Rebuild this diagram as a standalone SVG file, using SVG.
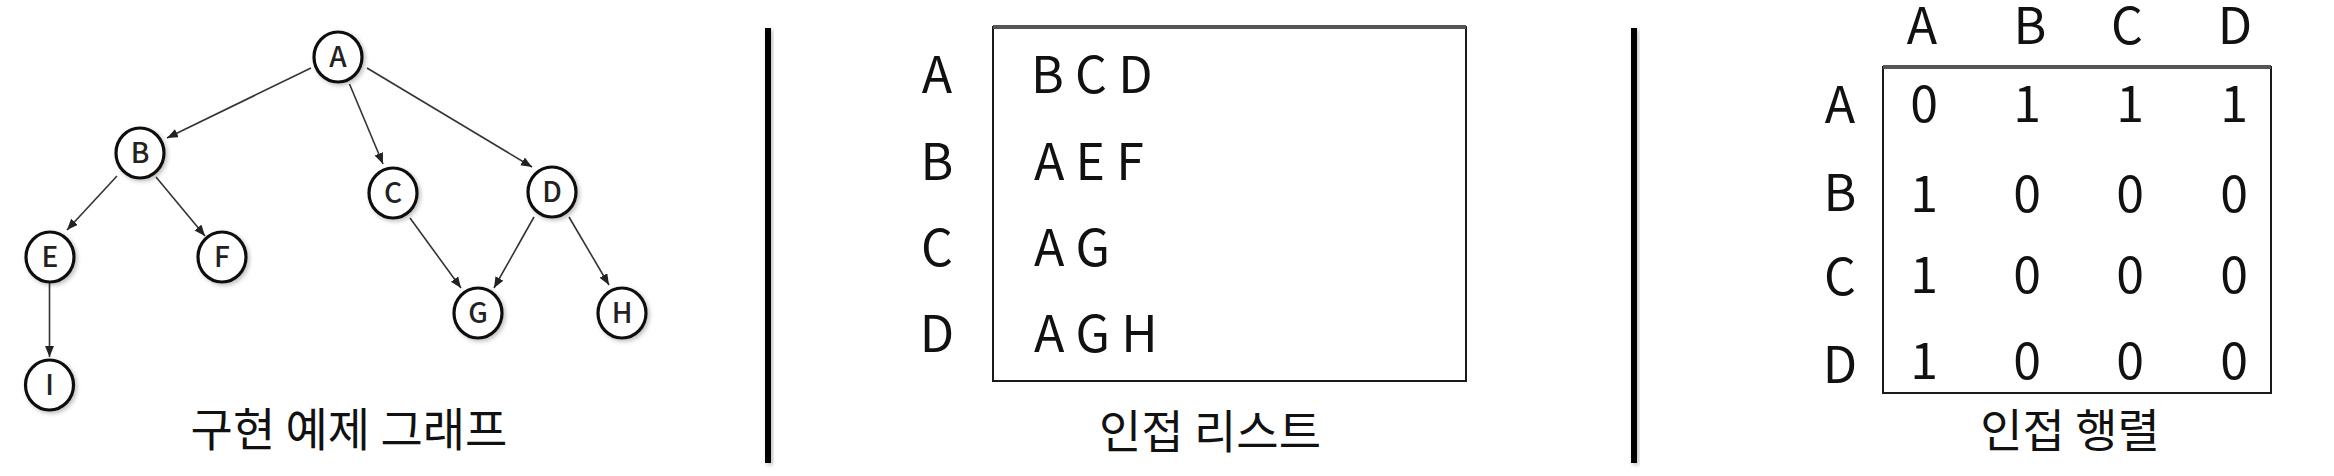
<svg xmlns="http://www.w3.org/2000/svg" width="2334" height="476" viewBox="0 0 2334 476">
<defs>
<style>
.node ellipse{fill:#fff;stroke:#111;stroke-width:3.2;filter:url(#sh)}
.node text{font-family:"Noto Sans CJK KR","Noto Sans",sans-serif;font-weight:500;font-size:28px;fill:#222;text-anchor:middle}
.edge{stroke:#333;stroke-width:1.6;fill:none;marker-end:url(#arr)}
.big{font-family:"Noto Sans CJK KR","Noto Sans",sans-serif;font-size:50px;fill:#111}
.mid{text-anchor:middle}
.title{font-family:"Noto Sans CJK KR",sans-serif;font-weight:400;font-size:46px;fill:#111;text-anchor:middle}
.sep{fill:#000;filter:url(#sh)}
.box{fill:none;stroke:#1a1a1a;stroke-width:2}
.boxtop{stroke:#555;stroke-width:4}
</style>
<filter id="sh" x="-50%" y="-50%" width="200%" height="200%">
<feDropShadow dx="2" dy="2" stdDeviation="2" flood-color="#000" flood-opacity="0.25"/>
</filter>
<marker id="arr" markerUnits="userSpaceOnUse" markerWidth="12" markerHeight="10" refX="11" refY="4.5" orient="auto">
<path d="M0,0 L11,4.5 L0,9 Z" fill="#222"/>
</marker>
</defs>
<rect width="2334" height="476" fill="#fff"/>

<g id="connectors">
<line class="edge" x1="311" y1="68" x2="167" y2="138"/>
<line class="edge" x1="349.5" y1="84" x2="383" y2="164"/>
<line class="edge" x1="367" y1="68" x2="532" y2="167"/>
<line class="edge" x1="117" y1="176" x2="67" y2="230"/>
<line class="edge" x1="156" y1="177" x2="205" y2="236"/>
<line class="edge" x1="49.5" y1="283" x2="49.5" y2="357"/>
<line class="edge" x1="410" y1="218" x2="461" y2="288"/>
<line class="edge" x1="534" y1="217" x2="494" y2="288"/>
<line class="edge" x1="569" y1="217" x2="609" y2="285"/>
</g>

<g id="node-A" class="node"><ellipse cx="338" cy="57" rx="24" ry="25"/><text x="338" y="67">A</text></g>
<g id="node-B" class="node"><ellipse cx="140" cy="153" rx="24" ry="25"/><text x="140" y="163">B</text></g>
<g id="node-C" class="node"><ellipse cx="393" cy="193" rx="24" ry="25"/><text x="393" y="203">C</text></g>
<g id="node-D" class="node"><ellipse cx="552" cy="192" rx="24" ry="25"/><text x="552" y="202">D</text></g>
<g id="node-E" class="node"><ellipse cx="50" cy="257" rx="24" ry="25"/><text x="50" y="267">E</text></g>
<g id="node-F" class="node"><ellipse cx="222" cy="257" rx="24" ry="25"/><text x="222" y="267">F</text></g>
<g id="node-G" class="node"><ellipse cx="478" cy="313" rx="24" ry="25"/><text x="478" y="323">G</text></g>
<g id="node-H" class="node"><ellipse cx="622" cy="313" rx="24" ry="25"/><text x="622" y="323">H</text></g>
<g id="node-I" class="node"><ellipse cx="49.5" cy="385" rx="24" ry="25"/><text x="49.5" y="395">I</text></g>
<text class="title" x="349" y="446">구현 예제 그래프</text>

<rect class="sep" x="765" y="28" width="6" height="435"/>
<rect class="sep" x="1631" y="28" width="6" height="435"/>

<g id="adj-list">
<rect class="box" x="993" y="27" width="473" height="354"/>
<line class="boxtop" x1="993" y1="27" x2="1466" y2="27"/>
<text class="big mid" x="937" y="93">A</text>
<text class="big mid" x="937" y="180">B</text>
<text class="big mid" x="937" y="266">C</text>
<text class="big mid" x="937" y="352">D</text>
<text class="big" x="1031" y="93">B C D</text>
<text class="big" x="1034" y="180">A E F</text>
<text class="big" x="1034" y="266">A G</text>
<text class="big" x="1034" y="352">A G H</text>
<text class="title" x="1210" y="448">인접 리스트</text>
</g>

<g id="adj-matrix">
<rect class="box" x="1883" y="67" width="388" height="326"/>
<line class="boxtop" x1="1883" y1="67" x2="2271" y2="67"/>
<text class="big mid" x="1922" y="44">A</text>
<text class="big mid" x="2030" y="44">B</text>
<text class="big mid" x="2127" y="44">C</text>
<text class="big mid" x="2235" y="44">D</text>
<text class="big mid" x="1840" y="123">A</text>
<text class="big mid" x="1840" y="211">B</text>
<text class="big mid" x="1840" y="295">C</text>
<text class="big mid" x="1840" y="383">D</text>
<g class="big mid">
<text x="1924" y="122">0</text><text x="2027" y="122">1</text><text x="2130" y="122">1</text><text x="2234" y="122">1</text>
<text x="1924" y="212">1</text><text x="2027" y="212">0</text><text x="2130" y="212">0</text><text x="2234" y="212">0</text>
<text x="1924" y="293">1</text><text x="2027" y="293">0</text><text x="2130" y="293">0</text><text x="2234" y="293">0</text>
<text x="1924" y="379">1</text><text x="2027" y="379">0</text><text x="2130" y="379">0</text><text x="2234" y="379">0</text>
</g>
<text class="title" x="2070" y="447">인접 행렬</text>
</g>
</svg>
